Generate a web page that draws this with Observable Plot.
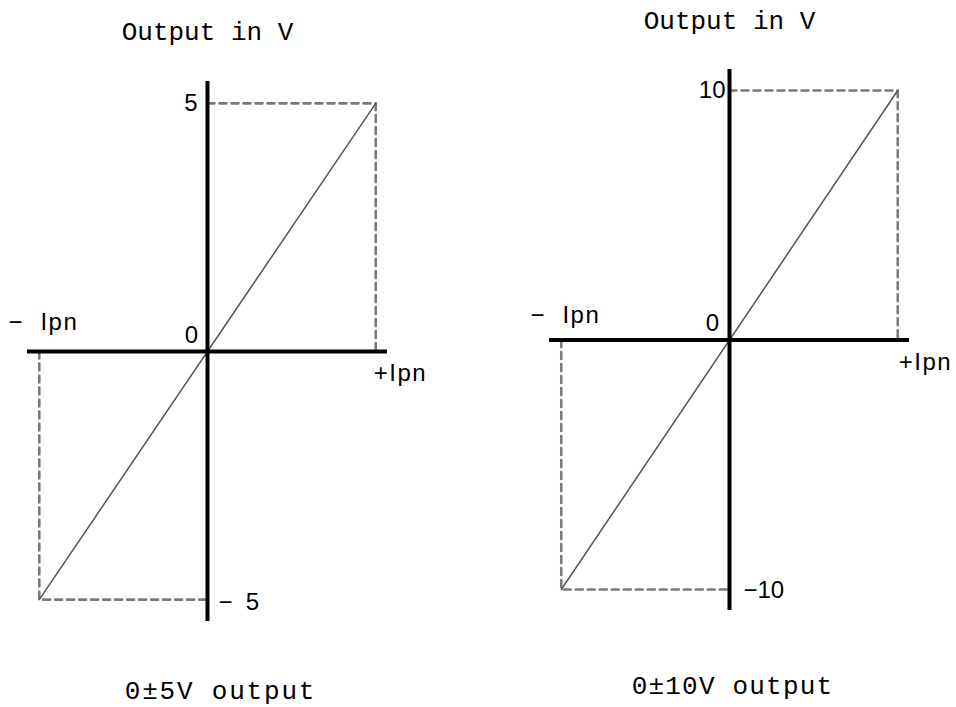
<!DOCTYPE html>
<html>
<head>
<meta charset="utf-8">
<script src="https://cdn.jsdelivr.net/npm/d3@7"></script>
<script src="https://cdn.jsdelivr.net/npm/@observablehq/plot@0.6"></script>
<style>
  html, body { margin: 0; padding: 0; background: #fff; }
  #wrap { position: relative; width: 956px; height: 707px; overflow: hidden; background: #fff; }
  .panel { position: absolute; top: 0; }
  svg text { white-space: pre; }
</style>
</head>
<body>
<div id="wrap">
  <div class="panel" id="p5" style="left:0px"></div>
  <div class="panel" id="p10" style="left:478px"></div>
</div>
<script>
// ---- data ----
const currentPoints = [-1, 1];                 // -Ipn, +Ipn (normalised)
const currentLabels = ["\u2212\u00a0\u00a0Ipn", "+Ipn"];
const outputMax5 = 5;
const outputMax10 = 10;
const outputTickLabels5 = ["5", "0", "\u2212\u00a0\u00a05"];
const outputTickLabels10 = ["10", "0", "\u221210"];
const axisExtentX = [-1.07, 1.07];
const axisExtentY5 = [-5.44, 5.44];
const axisExtentY10 = [-10.84, 10.84];
const titles = ["Output in V", "Output in V"];
const captions = ["0\u00b15V output", "0\u00b110V output"];

const monoFont = "'Liberation Mono', 'DejaVu Sans Mono', monospace";
const sansFont = "'Liberation Sans', Arial, sans-serif";

function panel(cfg) {
  const vmax = cfg.vmax;
  const upperDash = [{x: 0, y: vmax}, {x: currentPoints[1], y: vmax}, {x: currentPoints[1], y: 0}];
  const lowerDash = [{x: currentPoints[0], y: 0}, {x: currentPoints[0], y: -vmax}, {x: 0, y: -vmax}];
  const diag = [{x: currentPoints[0], y: -vmax}, {x: currentPoints[1], y: vmax}];
  const ticks = [
    {x: 0, y: vmax, t: cfg.tickLabels[0]},
    {x: 0, y: 0, t: cfg.tickLabels[1]},
    {x: 0, y: -vmax, t: cfg.tickLabels[2]}
  ];
  const o = cfg.off;
  const dashStyle = {x: "x", y: "y", stroke: "#7a7a7a", strokeWidth: 2.6, strokeDasharray: "7,5"};
  const svg = Plot.plot({
    width: 478,
    height: 707,
    marginLeft: cfg.m[0], marginRight: cfg.m[1], marginTop: cfg.m[2], marginBottom: cfg.m[3],
    x: {domain: axisExtentX, axis: null},
    y: {domain: cfg.extY, axis: null},
    style: {background: "white", overflow: "visible"},
    marks: [
      Plot.line(upperDash, dashStyle),
      Plot.line(lowerDash, dashStyle),
      Plot.line(diag, {x: "x", y: "y", stroke: "#555", strokeWidth: 1.5}),
      Plot.ruleY([0], {stroke: "#000", strokeWidth: 4}),
      Plot.ruleX([0], {stroke: "#000", strokeWidth: 4}),
      // output tick labels
      Plot.text([ticks[0]], {x: "x", y: "y", text: "t", textAnchor: "end", dx: o.top[0], dy: o.top[1], fontSize: 24, fontFamily: sansFont, fill: "#000"}),
      Plot.text([ticks[1]], {x: "x", y: "y", text: "t", textAnchor: "middle", dx: o.zero[0], dy: o.zero[1], fontSize: 24, fontFamily: sansFont, fill: "#000"}),
      Plot.text([ticks[2]], {x: "x", y: "y", text: "t", textAnchor: "start", dx: o.bot[0], dy: o.bot[1], fontSize: 24, fontFamily: sansFont, fill: "#000"}),
      // current labels
      Plot.text([{x: currentPoints[0], y: 0, t: currentLabels[0]}], {x: "x", y: "y", text: "t", textAnchor: "end", dx: o.neg[0], dy: o.neg[1], fontSize: 24, fontFamily: sansFont, fill: "#000"}),
      Plot.text([{x: currentPoints[1], y: 0, t: currentLabels[1]}], {x: "x", y: "y", text: "t", textAnchor: "start", dx: o.pos[0], dy: o.pos[1], fontSize: 24, fontFamily: sansFont, fill: "#000"}),
      // title and caption
      Plot.text([cfg.title], {frameAnchor: "top", lineAnchor: "bottom", dx: o.title[0], dy: o.title[1], fontSize: 26, fontFamily: monoFont, fill: "#000"}),
      Plot.text([cfg.caption], {frameAnchor: "bottom", lineAnchor: "bottom", dx: o.cap[0], dy: o.cap[1], fontSize: 26, fontFamily: monoFont, fill: "#000"})
    ]
  });
  // letter spacing for caption and current labels
  d3.select(svg).selectAll("text")
    .filter(function () { return this.textContent === cfg.caption; })
    .attr("letter-spacing", cfg.capSpacing);
  d3.select(svg).selectAll("text")
    .filter(function () { return currentLabels.includes(this.textContent); })
    .attr("letter-spacing", 1.5);
  return svg;
}

document.getElementById("p5").appendChild(panel({
  vmax: outputMax5, extY: axisExtentY5, tickLabels: outputTickLabels5,
  title: titles[0], caption: captions[0], capSpacing: 1.8,
  m: [27, 91, 81, 86],
  off: {top: [-10, 0], zero: [-16, -16], bot: [11, 3], neg: [39, -29], pos: [-2, 22], title: [0, -42], cap: [13, 77]}
}));
document.getElementById("p10").appendChild(panel({
  vmax: outputMax10, extY: axisExtentY10, tickLabels: outputTickLabels10,
  title: titles[1], caption: captions[1], capSpacing: 1.2,
  m: [71, 47, 69, 97],
  off: {top: [-4, 0], zero: [-17, -17], bot: [14, 1], neg: [39, -25], pos: [1, 22], title: [0, -41], cap: [3, 83]}
}));
</script>
</body>
</html>
